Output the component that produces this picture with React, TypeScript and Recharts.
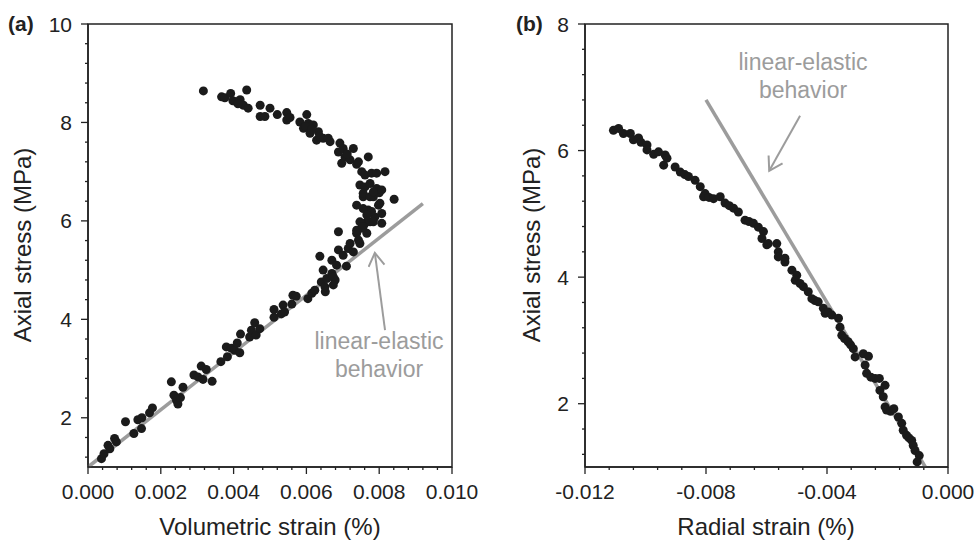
import React from 'react';
import { ScatterChart, Scatter, XAxis, YAxis, ReferenceLine, ReferenceArea } from 'recharts';

// panel (a): volumetric strain vs axial stress
const volStrain = [
  0.00037, 0.00044, 0.00055, 0.0006, 0.00073, 0.00078, 0.00103, 0.00126, 0.00137, 0.00147,
  0.00148, 0.00169, 0.00177, 0.00229, 0.00236, 0.00243, 0.00247, 0.00254, 0.00261, 0.00291,
  0.00302, 0.00311, 0.00316, 0.00325, 0.00341, 0.00365, 0.0038, 0.00383, 0.00394, 0.00403,
  0.0041, 0.00417, 0.00419, 0.00444, 0.00449, 0.00458, 0.00462, 0.00472, 0.00511, 0.00511,
  0.00531, 0.00536, 0.0054, 0.0056, 0.00563, 0.00572, 0.00604, 0.00615, 0.00623, 0.00641,
  0.00652, 0.00637, 0.00646, 0.00651, 0.00656, 0.0067, 0.0067, 0.00679, 0.00683, 0.00688,
  0.00688, 0.00701, 0.0071, 0.00715, 0.0072, 0.00729, 0.00738, 0.00743, 0.00747, 0.00752,
  0.00761, 0.00766, 0.00738, 0.00756, 0.0077, 0.00775, 0.00784, 0.00788, 0.00798, 0.008,
  0.00807, 0.00807, 0.00841, 0.00674, 0.00674, 0.00317, 0.00367, 0.00376, 0.00392, 0.00408,
  0.00418, 0.00436, 0.00427, 0.0044, 0.00473, 0.00473, 0.00486, 0.005, 0.0052, 0.00546,
  0.00546, 0.00555, 0.00601, 0.00582, 0.00592, 0.00605, 0.0061, 0.00619, 0.00628, 0.00633,
  0.00646, 0.0066, 0.00665, 0.00692, 0.00688, 0.00701, 0.00697, 0.00706, 0.00729, 0.0072,
  0.00738, 0.00743, 0.0077, 0.00752, 0.00761, 0.00779, 0.00793, 0.00816, 0.00747, 0.00761,
  0.00775, 0.00793, 0.00807, 0.00756, 0.00775, 0.00784, 0.00756, 0.00779, 0.00802, 0.00766,
  0.00747, 0.00784, 0.00738, 0.00756, 0.00398, 0.00412, 0.00598, 0.00614, 0.00636, 0.00712,
];
const volStress = [
  1.17, 1.27, 1.44, 1.37, 1.58, 1.51, 1.92, 1.68, 1.96, 1.78,
  2.0, 2.1, 2.2, 2.73, 2.46, 2.36, 2.28, 2.41, 2.62, 2.87,
  2.83, 3.05, 2.78, 2.98, 2.74, 3.14, 3.44, 3.24, 3.41, 3.37,
  3.52, 3.32, 3.7, 3.64, 3.78, 3.93, 3.68, 3.81, 4.04, 4.2,
  4.11, 4.29, 4.15, 4.31, 4.49, 4.47, 4.42, 4.53, 4.59, 4.76,
  4.56, 5.28, 5.0, 4.66, 4.83, 4.93, 5.2, 4.8, 5.1, 5.41,
  5.78, 5.3, 5.08, 5.44, 5.54, 5.37, 5.75, 5.61, 5.54, 5.85,
  5.95, 5.75, 6.32, 6.49, 6.22, 5.98, 6.49, 6.08, 6.32, 6.57,
  6.15, 5.95, 6.44, 4.86, 4.7, 8.64, 8.52, 8.5, 8.59, 8.42,
  8.46, 8.66, 8.35, 8.29, 8.35, 8.12, 8.12, 8.29, 8.16, 8.2,
  8.05, 8.1, 8.16, 8.01, 7.88, 7.98, 7.78, 7.95, 7.64, 7.81,
  7.68, 7.68, 7.61, 7.58, 7.4, 7.47, 7.17, 7.3, 7.47, 7.24,
  7.15, 7.2, 7.3, 7.0, 6.93, 6.97, 6.97, 7.0, 6.73, 6.69,
  6.76, 6.66, 6.63, 6.56, 6.49, 6.59, 6.25, 6.19, 6.36, 6.12,
  5.98, 5.98, 5.81, 5.88, 8.44, 8.38, 7.92, 7.86, 7.72, 7.36,
];

// panel (b): radial strain vs axial stress
const radStrain = [
  -0.01106, -0.01089, -0.01073, -0.0105, -0.0104, -0.01023, -0.01015, -0.00995, -0.00995, -0.00973,
  -0.00957, -0.00935, -0.0094, -0.00929, -0.00902, -0.00885, -0.0087, -0.00858, -0.00836, -0.00819,
  -0.00803, -0.00808, -0.0079, -0.00775, -0.00753, -0.00737, -0.00723, -0.00709, -0.00693, -0.00671,
  -0.00658, -0.00643, -0.00627, -0.0061, -0.00615, -0.00599, -0.00594, -0.00566, -0.00561, -0.00561,
  -0.00539, -0.00539, -0.00516, -0.005, -0.00505, -0.00489, -0.00478, -0.00462, -0.0045, -0.0044,
  -0.00429, -0.00412, -0.00406, -0.00396, -0.00384, -0.00362, -0.00357, -0.00351, -0.00342, -0.0033,
  -0.00322, -0.00313, -0.00307, -0.0028, -0.00263, -0.00274, -0.00269, -0.00255, -0.00241, -0.00227,
  -0.00225, -0.00208, -0.00214, -0.00208, -0.00203, -0.0019, -0.00179, -0.00164, -0.00153, -0.00148,
  -0.00137, -0.00129, -0.0012, -0.00115, -0.00109, -0.00095, -0.00102,
];
const radStress = [
  6.32, 6.35, 6.27, 6.27, 6.17, 6.2, 6.13, 6.09, 6.01, 5.94,
  5.98, 5.93, 5.77, 5.88, 5.74, 5.66, 5.62, 5.59, 5.53, 5.43,
  5.32, 5.27, 5.26, 5.24, 5.27, 5.17, 5.13, 5.09, 5.03, 4.9,
  4.88, 4.85, 4.79, 4.72, 4.61, 4.51, 4.53, 4.53, 4.4, 4.32,
  4.3, 4.24, 4.11, 4.03, 3.95, 3.9, 3.85, 3.77, 3.66, 3.63,
  3.61, 3.51, 3.43, 3.45, 3.4, 3.35, 3.21, 3.08, 3.03, 2.98,
  2.93, 2.87, 2.74, 2.79, 2.75, 2.61, 2.48, 2.42, 2.4, 2.4,
  2.21, 2.29, 2.11, 1.95, 1.9, 1.88, 1.92, 1.79, 1.69, 1.58,
  1.5, 1.46, 1.42, 1.34, 1.26, 1.18, 1.08,
];

// linear-elastic reference lines and annotation arrows (tail -> tip)
const elasticA = [{ x: 0, y: 1.0 }, { x: 0.0092, y: 6.35 }];
const arrowA = [{ x: 0.00816, y: 3.78 }, { x: 0.00788, y: 5.35 }];
const elasticB = [{ x: -0.008, y: 6.8 }, { x: -0.00075, y: 1.0 }];
const arrowB = [{ x: -0.00489, y: 6.55 }, { x: -0.00591, y: 5.68 }];

const xDomainA = [0, 0.01];
const yDomainA = [1, 10];
const xDomainB = [-0.012, 0];
const yDomainB = [1, 8];

const makeTicks = (from: number, to: number, step: number) => {
  const out: number[] = [];
  const n = Math.round((to - from) / step);
  for (let i = 0; i <= n; i++) out.push(Number((from + i * step).toFixed(6)));
  return out;
};

const INK = '#222';
const GREY = '#9c9c9c';
const FONT = '"Liberation Sans", Arial, sans-serif';

const isMajor = (v: number, step: number) => Math.abs(v / step - Math.round(v / step)) < 1e-6;

const XTick = (props: any) => {
  const { x, y, payload, major } = props;
  const big = isMajor(payload.value, major);
  const label = Math.abs(payload.value) < 1e-9 ? '0.000' : payload.value.toFixed(3);
  return (
    <g>
      <line x1={x} x2={x} y1={y} y2={y + (big ? 7 : 3)} stroke={INK} strokeWidth={1.3} />
      {big && (
        <text x={x} y={y + 32} textAnchor="middle" fontSize={21} fill={INK} fontFamily={FONT}>
          {label}
        </text>
      )}
    </g>
  );
};

const YTick = (props: any) => {
  const { x, y, payload } = props;
  const big = isMajor(payload.value, 2);
  return (
    <g>
      <line x1={x - (big ? 7 : 3)} x2={x} y1={y} y2={y} stroke={INK} strokeWidth={1.3} />
      {big && (
        <text x={x - 16} y={y + 7.5} textAnchor="end" fontSize={21} fill={INK} fontFamily={FONT}>
          {Math.round(payload.value)}
        </text>
      )}
    </g>
  );
};

const dot = (p: any) => <circle cx={p.cx} cy={p.cy} r={4.5} fill="#1b1b1b" />;

const pointsA = volStrain.map((x, i) => ({ x, y: volStress[i] }));
const pointsB = radStrain.map((x, i) => ({ x, y: radStress[i] }));

const Panel = ({ points, xDomain, yDomain, xStep, xMajor, yAxisW, rightM, elastic, arrow, arrowId }: any) => (
  <ScatterChart width={488} height={540} margin={{ top: 24, right: rightM, left: 0, bottom: 0 }}>
    <XAxis
      type="number"
      dataKey="x"
      domain={xDomain}
      allowDataOverflow
      ticks={makeTicks(xDomain[0], xDomain[1], xStep)}
      interval={0}
      height={73}
      tickSize={0}
      tickMargin={0}
      tickLine={false}
      axisLine={{ stroke: INK, strokeWidth: 1.5 }}
      tick={(p: any) => <XTick {...p} major={xMajor} />}
    />
    <YAxis
      type="number"
      dataKey="y"
      domain={yDomain}
      allowDataOverflow
      ticks={makeTicks(1.2, yDomain[1], 0.4)}
      interval={0}
      width={yAxisW}
      tickSize={0}
      tickMargin={0}
      tickLine={false}
      axisLine={{ stroke: INK, strokeWidth: 1.5 }}
      tick={(p: any) => <YTick {...p} />}
    />
    <ReferenceArea
      x1={xDomain[0]}
      x2={xDomain[1]}
      y1={yDomain[0]}
      y2={yDomain[1]}
      fill="none"
      fillOpacity={0}
      stroke={INK}
      strokeWidth={1.5}
    />
    <ReferenceLine segment={elastic} stroke={GREY} strokeWidth={3.5} />
    <Scatter data={points} shape={dot} isAnimationActive={false} />
    <ReferenceLine segment={arrow} stroke={GREY} strokeWidth={2} markerEnd={`url(#${arrowId})`} />
  </ScatterChart>
);

export default function App() {
  const txt = { fontFamily: FONT, fill: INK };
  return (
    <div style={{ position: 'absolute', left: 0, top: 0, width: 976, height: 540, background: '#fff' }}>
      <div style={{ position: 'absolute', left: 0, top: 0 }}>
        <Panel
          points={pointsA}
          xDomain={xDomainA}
          yDomain={yDomainA}
          xStep={0.0004}
          xMajor={0.002}
          yAxisW={88}
          rightM={36}
          elastic={elasticA}
          arrow={arrowA}
          arrowId="headA"
        />
      </div>
      <div style={{ position: 'absolute', left: 488, top: 0 }}>
        <Panel
          points={pointsB}
          xDomain={xDomainB}
          yDomain={yDomainB}
          xStep={0.0008}
          xMajor={0.004}
          yAxisW={97}
          rightM={28}
          elastic={elasticB}
          arrow={arrowB}
          arrowId="headB"
        />
      </div>
      <svg width={976} height={540} style={{ position: 'absolute', left: 0, top: 0, pointerEvents: 'none' }}>
        <defs>
          {['headA', 'headB'].map((id) => (
            <marker key={id} id={id} markerUnits="userSpaceOnUse" markerWidth={20} markerHeight={20} refX={15} refY={9} orient="auto">
              <path d="M2,1 L15,9 L2,17" fill="none" stroke={GREY} strokeWidth={2} />
            </marker>
          ))}
        </defs>
        <text x={8} y={31} fontSize={21} fontWeight="bold" {...txt}>(a)</text>
        <text x={516} y={31} fontSize={21} fontWeight="bold" {...txt}>(b)</text>
        <text x={270} y={535} fontSize={24} textAnchor="middle" {...txt}>Volumetric strain (%)</text>
        <text x={766} y={535} fontSize={24} textAnchor="middle" {...txt}>Radial strain (%)</text>
        <text transform="translate(31,245) rotate(-90)" fontSize={24} textAnchor="middle" {...txt}>Axial stress (MPa)</text>
        <text transform="translate(540,245) rotate(-90)" fontSize={24} textAnchor="middle" {...txt}>Axial stress (MPa)</text>
        <g fontFamily={FONT} fontSize={23} fill={GREY} textAnchor="middle">
          <text x={379} y={349}>linear-elastic</text>
          <text x={379} y={377}>behavior</text>
          <text x={803} y={70}>linear-elastic</text>
          <text x={803} y={98}>behavior</text>
        </g>
      </svg>
    </div>
  );
}
